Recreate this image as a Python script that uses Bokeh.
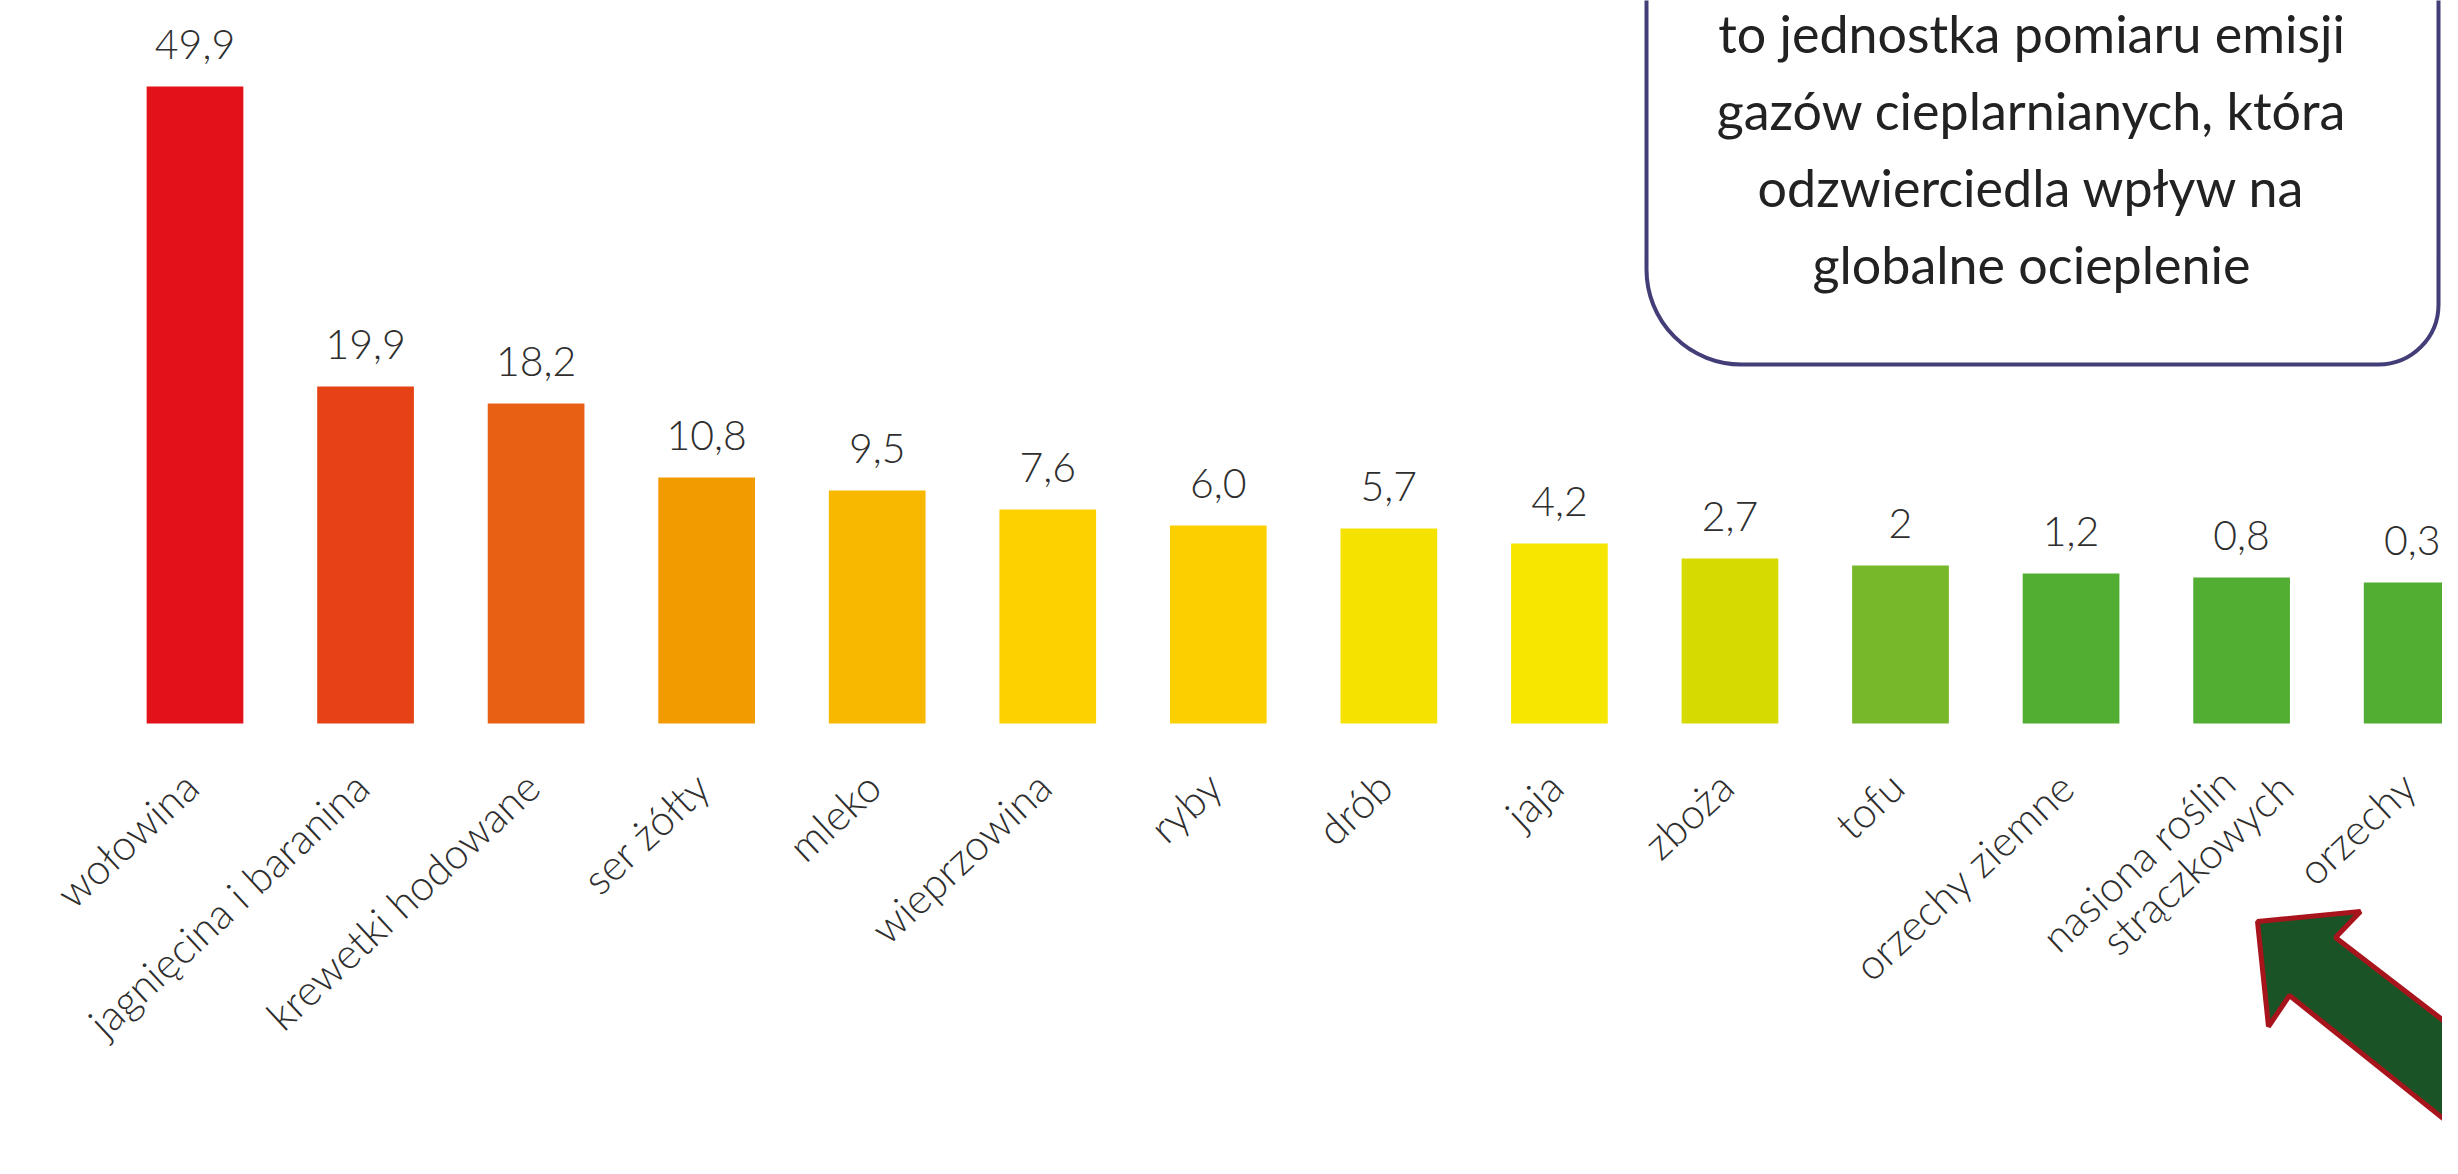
from bokeh.plotting import figure
from bokeh.models import Range1d, BoxAnnotation, PolyAnnotation, Label
from bokeh.core.properties import value
from bokeh.embed import file_html
from bokeh.resources import INLINE

# ---- data ----
categories = ["wołowina", "jagnięcina i baranina", "krewetki hodowane", "ser żółty",
              "mleko", "wieprzowina", "ryby", "drób", "jaja", "zboża", "tofu",
              "orzechy ziemne", "nasiona roślin\nstrączkowych", "orzechy"]
values = [49.9, 19.9, 18.2, 10.8, 9.5, 7.6, 6.0, 5.7, 4.2, 2.7, 2.0, 1.2, 0.8, 0.3]
value_labels = ["49,9", "19,9", "18,2", "10,8", "9,5", "7,6", "6,0", "5,7",
                "4,2", "2,7", "2", "1,2", "0,8", "0,3"]
colors = ["#E31219", "#E54216", "#E86014", "#F29B00", "#F8B800", "#FDD100",
          "#FCCF00", "#F6E200", "#F6E600", "#D6DA00", "#76B82A", "#52AD33",
          "#52AD33", "#52AD33"]
axis_floor = -13.8   # value at which the (truncated) value axis starts
note_lines = ["to jednostka pomiaru emisji", "gazów cieplarnianych, która",
              "odzwierciedla wpływ na", "globalne ocieplenie"]

# ---- layout ----
W, H = 2442, 1158
px_per_cat = 170.55
first_center = 194.5
px_per_unit = 10.0
base_px = 723
FONT = "Lato Light"

idx = list(range(len(categories)))
x0 = -first_center / px_per_cat
x1 = x0 + W / px_per_cat
y1 = axis_floor + base_px / px_per_unit
y0 = axis_floor - (H - base_px) / px_per_unit

p = figure(width=W, height=H, x_range=Range1d(x0, x1), y_range=Range1d(y0, y1),
           output_backend="svg", toolbar_location=None,
           x_axis_location=None, y_axis_location=None, min_border=0)
p.grid.visible = False
p.outline_line_color = None
p.background_fill_color = "white"
p.border_fill_color = "white"

p.vbar(x=idx, top=values, bottom=axis_floor, width=0.567,
       fill_color=colors, line_color=None)

p.text(x=idx, y=values, text=value_labels, text_align="center",
       text_baseline="middle", y_offset=-42, text_font=value(FONT),
       text_font_size="41px", text_color="#2e2e2e")

# category labels (rotated); multi-line labels split into lines
lx, ly, lt, lxo, lyo = [], [], [], [], []
for i, c in enumerate(categories):
    parts = c.split("\n")
    for k, part in enumerate(parts):
        lx.append(i)
        ly.append(axis_floor)
        lt.append(part)
        if len(parts) == 1:
            lxo.append(-4); lyo.append(56)
        else:
            lxo.append(-14 + 58 * k); lyo.append(52 + 5 * k)
p.text(x=lx, y=ly, text=lt, x_offset=lxo, y_offset=lyo, angle=0.7505,
       text_align="right", text_baseline="middle", text_font=value(FONT),
       text_font_size="42px", text_color="#2e2e2e")


def sy(y_from_top):
    # annotation screen units are measured from the bottom of the canvas
    return H - y_from_top


# note box (top edge runs off the canvas)
box = BoxAnnotation(left=1646, right=2438, top=sy(-60), bottom=sy(364),
                    left_units="screen", right_units="screen",
                    top_units="screen", bottom_units="screen",
                    fill_color="white", fill_alpha=1.0,
                    line_color="#433d78", line_alpha=1.0, line_width=4,
                    border_radius=dict(top_left=0, top_right=0,
                                       bottom_right=60, bottom_left=95))
p.add_layout(box)
for k, line in enumerate(note_lines):
    p.add_layout(Label(x=2031, y=sy(32 + 77 * k), x_units="screen", y_units="screen",
                       text=line, text_align="center", text_baseline="alphabetic",
                       text_font="Lato", text_font_size="52px",
                       text_color="#222222"))

# arrow pointing at the legumes label
ax = [2257, 2360, 2335, 2535, 2535, 2289, 2268]
ay = [921, 911, 937, 1091, 1192, 995, 1026]
arrow = PolyAnnotation(xs=ax, ys=[sy(v) for v in ay],
                       xs_units="screen", ys_units="screen",
                       fill_color="#1A5426", fill_alpha=1.0,
                       line_color="#A8141C", line_alpha=1.0, line_width=5)
p.add_layout(arrow)

open("out.html", "w").write(file_html(p, INLINE))
